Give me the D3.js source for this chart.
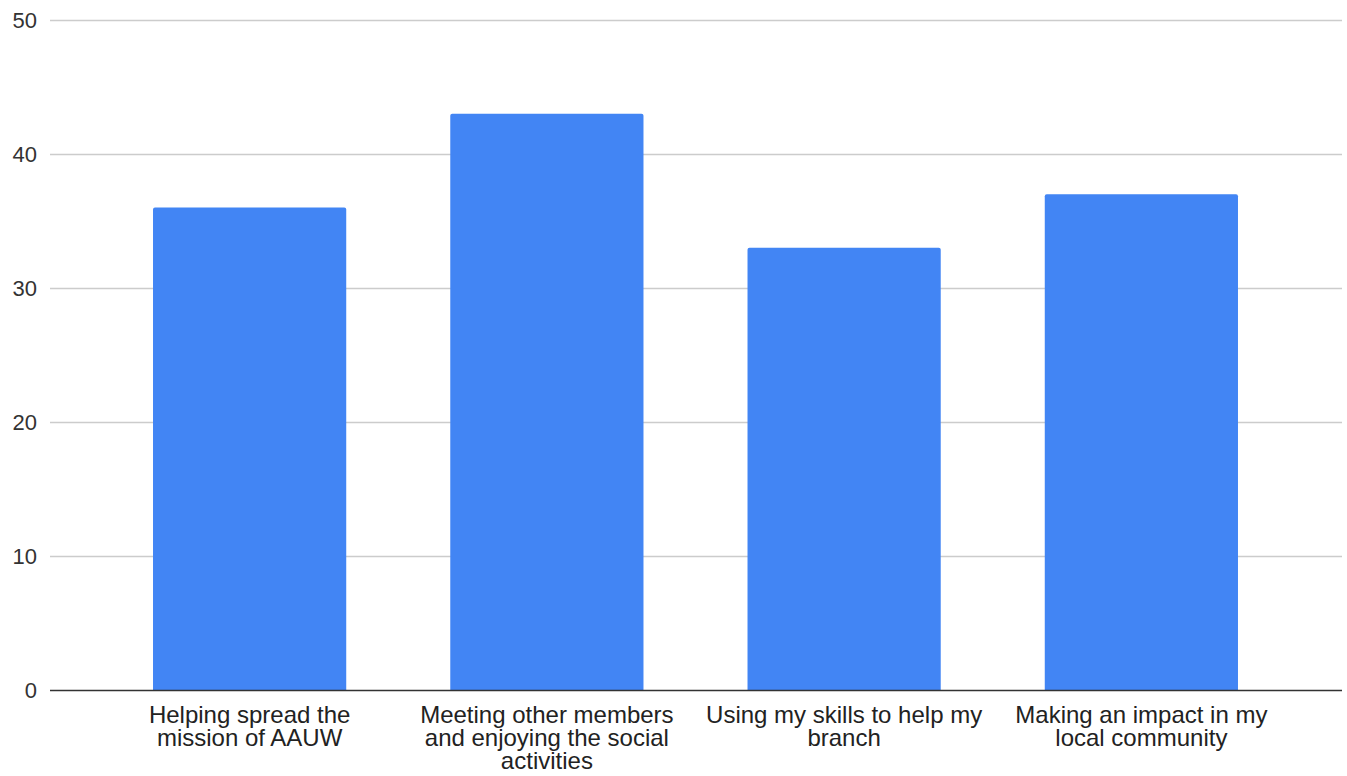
<!DOCTYPE html>
<html>
<head>
<meta charset="utf-8">
<script src="https://cdn.jsdelivr.net/npm/d3@7"></script>
<style>
  body { margin: 0; background: #fff; }
  text { font-family: "Liberation Sans", Arial, sans-serif; }
</style>
</head>
<body>
<div id="chart"></div>
<script>
// chart data
var categories = [
  "Helping spread the\nmission of AAUW",
  "Meeting other members\nand enjoying the social\nactivities",
  "Using my skills to help my\nbranch",
  "Making an impact in my\nlocal community"
];
var counts = [36, 43, 33, 37];
var yTicks = [0, 10, 20, 30, 40, 50];

var svgWidth = 1347;
var svgHeight = 776;

var svg = d3.select("#chart")
  .append("svg")
  .attr("width", svgWidth)
  .attr("height", svgHeight);

// plot area
var gridLeft = 50, gridRight = 1342;
var plotTop = 20, plotBottom = 690;

var x = d3.scaleBand()
  .domain(categories)
  .range([101, 1290])
  .paddingInner(0.35)
  .paddingOuter(0.175);

var y = d3.scaleLinear()
  .domain([0, 50])
  .range([plotBottom, plotTop]);

// gridlines
svg.append("g")
  .selectAll("line")
  .data(yTicks.filter(d => d > 0))
  .enter()
  .append("line")
  .attr("x1", gridLeft)
  .attr("x2", gridRight)
  .attr("y1", d => Math.round(y(d)) + 0.5)
  .attr("y2", d => Math.round(y(d)) + 0.5)
  .attr("stroke", "#cccccc")
  .attr("stroke-width", 1.5);

// y tick labels
svg.append("g")
  .selectAll("text")
  .data(yTicks)
  .enter()
  .append("text")
  .attr("x", 37)
  .attr("y", d => y(d))
  .attr("dy", "0.35em")
  .attr("text-anchor", "end")
  .attr("font-size", "22px")
  .attr("fill", "#333")
  .text(d => d);

// bars, rounded at the top only
svg.append("g")
  .selectAll("path")
  .data(counts)
  .enter()
  .append("path")
  .attr("fill", "#4285f4")
  .attr("d", function(d, i) {
    var x0 = x(categories[i]), w = x.bandwidth();
    var y0 = y(d), y1 = y(0), r = 2;
    return `M${x0},${y1}V${y0 + r}Q${x0},${y0} ${x0 + r},${y0}` +
      `H${x0 + w - r}Q${x0 + w},${y0} ${x0 + w},${y0 + r}V${y1}Z`;
  });

// baseline
svg.append("line")
  .attr("x1", gridLeft)
  .attr("x2", gridRight)
  .attr("y1", plotBottom + 0.5)
  .attr("y2", plotBottom + 0.5)
  .attr("stroke", "#333")
  .attr("stroke-width", 1.5);

// category labels
var labels = svg.append("g")
  .selectAll("text")
  .data(categories)
  .enter()
  .append("text")
  .attr("text-anchor", "middle")
  .attr("font-size", "24px")
  .attr("fill", "#222");

labels.each(function(d) {
  var t = d3.select(this);
  var cx = x(d) + x.bandwidth() / 2;
  d.split("\n").forEach(function(line, k) {
    t.append("tspan")
      .attr("x", cx)
      .attr("y", 723 + k * 23)
      .text(line);
  });
});
</script>
</body>
</html>
